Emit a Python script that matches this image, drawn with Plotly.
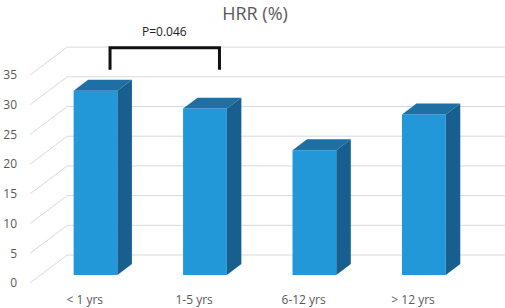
import plotly.graph_objects as go

categories = ["< 1 yrs", "1-5 yrs", "6-12 yrs", "> 12 yrs"]
hrr_values = [31, 28, 21, 27]
y_ticks = [0, 5, 10, 15, 20, 25, 30, 35]
p_text = "P=0.046"
title_text = "HRR (%)"

# 3D-look geometry (in axis units)
DX = 0.34      # depth offset along x (category units)
DY = 4.71      # depth offset along y (value units)
T_FRONT = 0.29  # bar front plane depth fraction
T_BACK = 0.68   # bar back plane depth fraction
HALF_W = 0.2

FRONT = "#2398D9"
TOP = "#1D6FA4"
SIDE = "#175F8F"
GRID = "#D9D9D9"
TXT = "#595959"
FONT = "Open Sans"

xs = list(range(len(categories)))
fig = go.Figure()

# front faces as bars
fig.add_trace(go.Bar(
    x=[i + T_FRONT * DX for i in xs],
    y=hrr_values,
    base=[T_FRONT * DY] * len(xs),
    width=2 * HALF_W,
    marker=dict(color=FRONT, line=dict(width=0)),
    hoverinfo="skip",
))

# top and side faces
for i, v in zip(xs, hrr_values):
    fx = i + T_FRONT * DX
    bx = i + T_BACK * DX
    fb = T_FRONT * DY
    bb = T_BACK * DY
    # top face
    fig.add_trace(go.Scatter(
        x=[fx - HALF_W, fx + HALF_W, bx + HALF_W, bx - HALF_W, fx - HALF_W],
        y=[v + fb, v + fb, v + bb, v + bb, v + fb],
        fill="toself", fillcolor=TOP, mode="lines",
        line=dict(width=0, color=TOP), hoverinfo="skip"))
    # side face
    fig.add_trace(go.Scatter(
        x=[fx + HALF_W, bx + HALF_W, bx + HALF_W, fx + HALF_W, fx + HALF_W],
        y=[v + fb, v + bb, bb, fb, v + fb],
        fill="toself", fillcolor=SIDE, mode="lines",
        line=dict(width=0, color=SIDE), hoverinfo="skip"))

x_left = -0.5
x_right = len(categories) - 0.5 + DX
shapes = []
for t in y_ticks:
    shapes.append(dict(type="path", layer="below",
                       path=f"M {x_left},{t} L {x_left + DX},{t + DY} L {x_right},{t + DY}",
                       line=dict(color=GRID, width=1)))

# significance bracket between first two bars
b0 = xs[0] + T_BACK * DX
b1 = xs[1] + T_BACK * DX
leg_low = max(hrr_values[0], hrr_values[1]) + T_BACK * DY + 1.7
leg_top = leg_low + 3.7
shapes.append(dict(type="path",
                   path=f"M {b0},{leg_low} L {b0},{leg_top} L {b1},{leg_top} L {b1},{leg_low}",
                   line=dict(color="#111111", width=3)))

fig.update_layout(
    width=505, height=308,
    margin=dict(l=30, r=0, t=0, b=25),
    paper_bgcolor="white", plot_bgcolor="white",
    showlegend=False,
    shapes=shapes,
    font=dict(family=FONT, color=TXT, size=12),
    title=dict(text=title_text, x=255 / 505, xref="container", xanchor="center",
               y=1 - 14 / 308, yref="container", yanchor="middle",
               font=dict(family=FONT, size=18, color=TXT)),
    annotations=[dict(x=(b0 + b1) / 2, y=leg_top, xref="x", yref="y",
                      text=p_text, showarrow=False, yanchor="bottom", yshift=6,
                      font=dict(family=FONT, size=12, color="#222222"))],
    xaxis=dict(range=[x_left, x_right], tickvals=xs, ticktext=categories,
               showgrid=False, zeroline=False, showline=False, ticks="",
               ticklabelstandoff=8, fixedrange=True),
    yaxis=dict(range=[0, 47.64], tickvals=y_ticks, showgrid=False, zeroline=False,
               showline=False, ticks="", ticklabelstandoff=12, fixedrange=True),
)

fig.write_html("out.html", config={"displayModeBar": False},
               post_script="document.body.style.margin='0px';document.body.style.padding='0px';")
